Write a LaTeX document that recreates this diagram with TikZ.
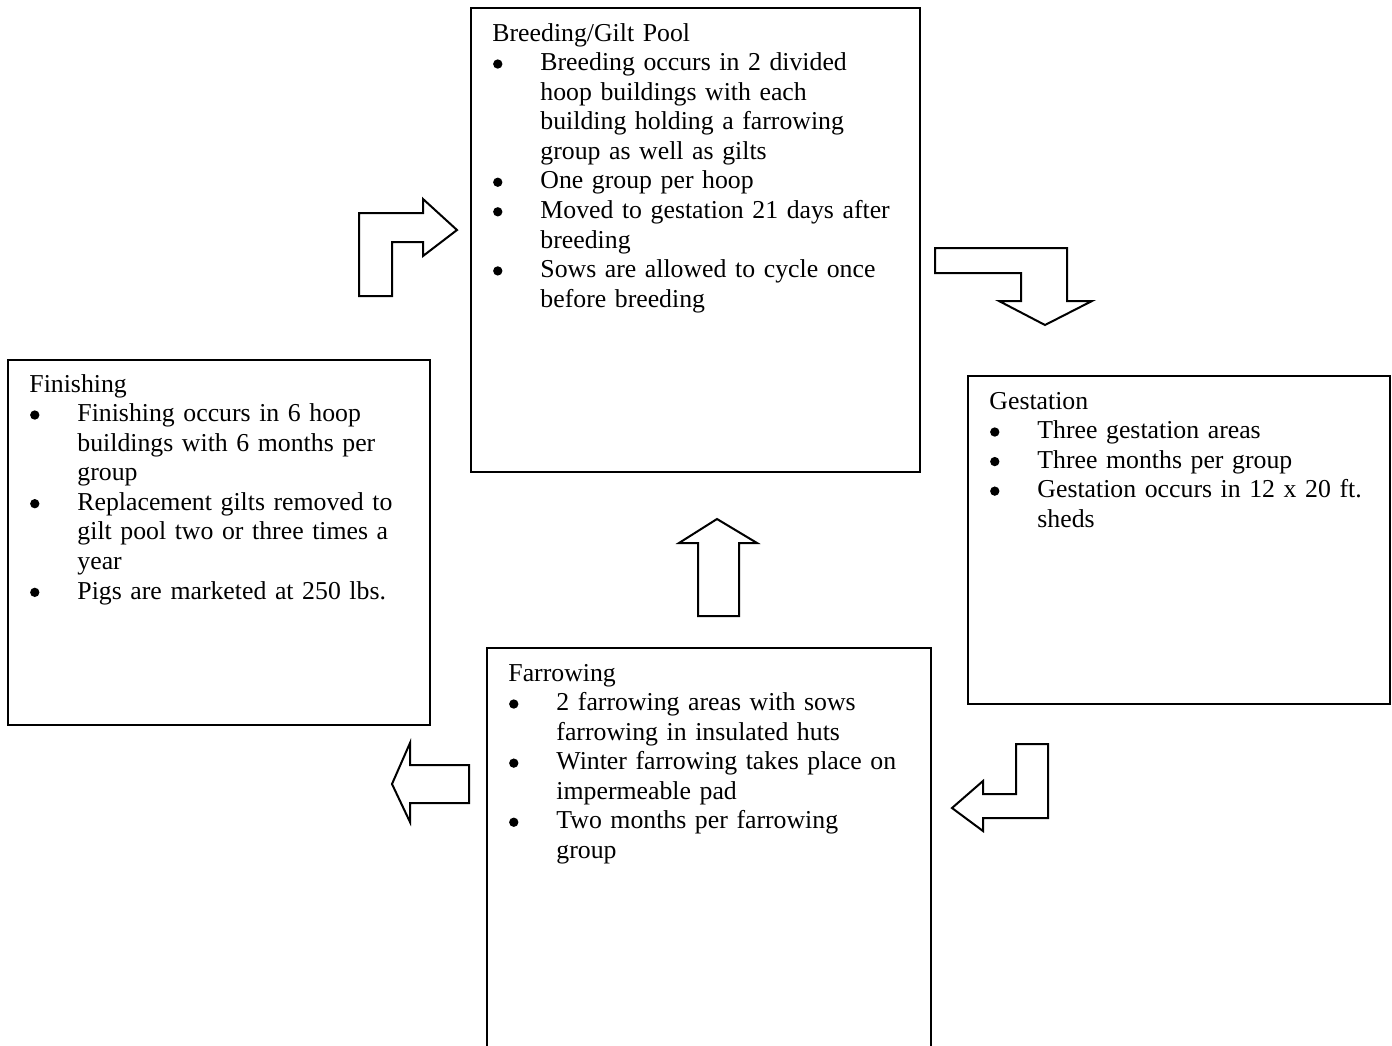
\documentclass[tikz,border=0pt]{standalone}
\usepackage{fontspec}
\setmainfont{Liberation Serif}
\newcommand\stagedot{\tikz[baseline=0pt,x=1cm,y=1cm,scale=1]\fill (2.1pt,3pt) circle (2.1pt);}
\newcommand\stagehead[1]{\noindent\strut#1\par}
\newcommand\stageitem[1]{\hangindent=21.6pt\hangafter=1\noindent\makebox[21.6pt][l]{\hspace{0.3pt}\stagedot}#1\par}
\begin{document}
\begin{tikzpicture}[x=0.45pt,y=-0.45pt,
    stage/.style={draw,line width=0.9pt,anchor=north west,inner sep=0pt,outer sep=0pt},
    stagetext/.style={anchor=north west,inner sep=0pt,text width=250pt,align=left,font=\fontsize{11.6}{13.3}\selectfont},
    flow/.style={draw,line width=0.9pt,line join=miter}]
                \useasboundingbox (0,0) rectangle (1392,1046);
                \path (471,8) node[stage,minimum width=202.05pt,minimum height=208.8pt] (breed) {};
                \path (8,360) node[stage,minimum width=189.9pt,minimum height=164.25pt] (finish) {};
                \path (968,376) node[stage,minimum width=189.9pt,minimum height=147.6pt] (gest) {};
                \path (487,648) node[stage,minimum width=199.8pt,minimum height=185.4pt] (farrow) {};

                \path ([shift={(21,12)}]breed.north west) node[stagetext] (breedtext) {%
                  \stagehead{Breeding/Gilt Pool}
                  \stageitem{Breeding occurs in 2 divided\newline hoop buildings with each\newline building holding a farrowing\newline group as well as gilts}
                  \stageitem{One group per hoop}
                  \stageitem{Moved to gestation 21 days after\newline breeding}
                  \stageitem{Sows are allowed to cycle once\newline before breeding}};
                \path ([shift={(21,11)}]finish.north west) node[stagetext] (finishtext) {%
                  \stagehead{Finishing}
                  \stageitem{Finishing occurs in 6 hoop\newline buildings with 6 months per\newline group}
                  \stageitem{Replacement gilts removed to\newline gilt pool two or three times a\newline year}
                  \stageitem{Pigs are marketed at 250 lbs.}};
                \path ([shift={(21,12)}]gest.north west) node[stagetext] (gesttext) {%
                  \stagehead{Gestation}
                  \stageitem{Three gestation areas}
                  \stageitem{Three months per group}
                  \stageitem{Gestation occurs in 12 x 20 ft.\newline sheds}};
                \path ([shift={(21,12)}]farrow.north west) node[stagetext] (farrowtext) {%
                  \stagehead{Farrowing}
                  \stageitem{2 farrowing areas with sows\newline farrowing in insulated huts}
                  \stageitem{Winter farrowing takes place on\newline impermeable pad}
                  \stageitem{Two months per farrowing\newline group}};

                \draw[flow] (359,296) -- (359,213) -- (423,213) -- (423,199) -- (457,230)
                  -- (423,256) -- (423,242) -- (392,242) -- (392,296) -- cycle;
                \draw[flow] (935,248) -- (1067,248) -- (1067,301) -- (1092,301) -- (1045,325)
                  -- (999,301) -- (1021,301) -- (1021,273) -- (935,273) -- cycle;
                \draw[flow] (1016,744) -- (1048,744) -- (1048,818) -- (983,818) -- (983,831)
                  -- (952,808) -- (983,781) -- (983,794) -- (1016,794) -- cycle;
                \draw[flow] (717,519) -- (757,543) -- (739,543) -- (739,616) -- (698,616)
                  -- (698,543) -- (679,543) -- cycle;
                \draw[flow] (392,784) -- (410,743) -- (410,765) -- (469,765) -- (469,803)
                  -- (410,803) -- (410,822) -- cycle;
              \end{tikzpicture}
\end{document}
